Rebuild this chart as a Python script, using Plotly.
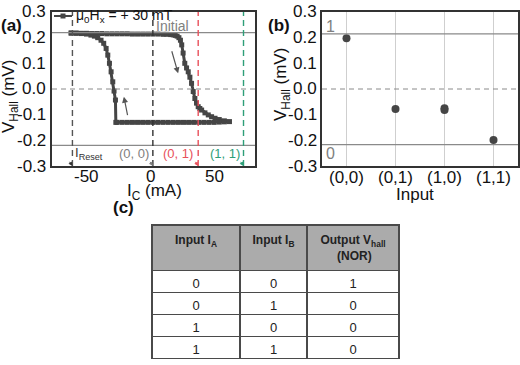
import plotly.graph_objects as go

W, H = 520, 365
FONT = "Liberation Sans, Arial, sans-serif"

# ---------------- Panel (a) data: hysteresis loop ----------------
ic_loop = [-62, -58, -54, -50, -46, -42, -38, -34, -30, -26, -22, -18, -14, -10, -6, -2,
           2, 6, 10, 13, 16, 18, 19.5, 21, 22.4, 23.6, 24.6, 25.7, 27, 28.4, 29.7, 31, 32.3,
           33.6, 34.9, 36.2, 37.5, 38.8, 40.2, 42.8, 45.4, 48, 50.7, 54, 58, 62,
           58, 54, 50, 46, 42, 38, 34, 30, 26, 22, 18, 14, 10, 6, 2, -2, -6, -10, -14,
           -18, -22, -26, -27,
           -27.3, -28.4, -29.4, -30.7, -32, -33.3, -34.6, -36.5, -38.6, -41.2, -43.8,
           -46.5, -50, -54, -58, -62]
vh_loop = [0.218, 0.218, 0.217, 0.217, 0.216, 0.216, 0.216, 0.215, 0.215, 0.215, 0.215, 0.215, 0.214, 0.214, 0.214, 0.214,
           0.214, 0.214, 0.213, 0.213, 0.212, 0.211, 0.209, 0.206, 0.200, 0.190, 0.172, 0.140, 0.100, 0.082, 0.067, 0.046, 0.022,
           -0.010, -0.037, -0.055, -0.069, -0.076, -0.082, -0.093, -0.101, -0.108, -0.114, -0.119, -0.124, -0.127,
           -0.128, -0.129, -0.130, -0.130, -0.130, -0.130, -0.130, -0.130, -0.130, -0.130, -0.130, -0.130, -0.130, -0.130, -0.130, -0.130, -0.130, -0.130, -0.130,
           -0.130, -0.130, -0.130, -0.130,
           -0.043, -0.008, 0.028, 0.067, 0.100, 0.132, 0.158, 0.178, 0.190, 0.200, 0.206,
           0.210, 0.214, 0.216, 0.217, 0.218]
loop_name = "\u03bc<sub>0</sub>H<sub>x</sub> = + 30 mT"

level_lines_a = [0.22, -0.22]
vlines_a = [-61, 2, 37.5, 73]
vline_colors = ["#555555", "#333333", "#e8505b", "#2e9e78"]
state_labels = ["I<sub>Reset</sub>", "(0, 0)", "(0, 1)", "(1, 1)"]
state_label_x = [-60.5, 0.5, 35, 71.5]
state_label_anchor = ["left", "right", "right", "right"]
state_label_colors = ["#333333", "#808080", "#e8505b", "#2e9e78"]

xticks_a = [-50, 0, 50]
xtick_text_a = ["-50", "0", "50"]
yticks = [0.3, 0.2, 0.1, 0.0, -0.1, -0.2, -0.3]
ytick_text = ["0.3", "0.2", "0.1", "0.0", "-0.1", "-0.2", "-0.3"]

# ---------------- Panel (b) data ----------------
input_idx = [0, 1, 2, 2, 3]
vhall_b = [0.198, -0.078, -0.075, -0.082, -0.199]
cat_ticks = [0, 1, 2, 3]
cat_text = ["(0,0)", "(0,1)", "(1,0)", "(1,1)"]
level_lines_b = [0.215, -0.217]
level_text_b = ["1", "0"]

# ---------------- Panel (c) table ----------------
tab_header = ["<b>Input I<sub>A</sub></b>", "<b>Input I<sub>B</sub></b>",
              "<b>Output V<sub>hall</sub></b><br><b>\u00a0\u00a0\u00a0\u00a0\u00a0(NOR)</b>"]
col_IA = ["0", "0", "1", "1"]
col_IB = ["0", "1", "0", "1"]
col_out = ["1", "0", "0", "0"]


def px_x(p):
    return p / W


def px_y(p):
    return 1 - p / H


fig = go.Figure()

fig.add_trace(go.Scatter(
    x=ic_loop, y=vh_loop, mode="lines+markers", name=loop_name,
    line=dict(color="#454545", width=3),
    marker=dict(symbol="square", size=5, color="#454545"),
    xaxis="x", yaxis="y", showlegend=False))

fig.add_trace(go.Scatter(
    x=input_idx, y=vhall_b, mode="markers",
    marker=dict(symbol="circle", size=8, color="#454545"),
    xaxis="x2", yaxis="y2", showlegend=False))

fig.add_trace(go.Table(
    domain=dict(x=[px_x(152), px_x(399)], y=[0, px_y(225)]),
    columnwidth=[88, 67, 92],
    header=dict(values=tab_header, fill_color="#ababab", height=39,
                line=dict(color="#4a4a4a", width=1.5),
                font=dict(family=FONT, size=12, color="#222222"), align="center"),
    cells=dict(values=[col_IA, col_IB, col_out], fill_color="white", height=22,
               line=dict(color="#4a4a4a", width=1.5),
               font=dict(family=FONT, size=13, color="#222222"), align="center")))

shapes = []
for v in level_lines_a:
    shapes.append(dict(type="line", xref="x domain", yref="y", x0=0, x1=1, y0=v, y1=v,
                       line=dict(color="#8a8a8a", width=1.3)))
shapes.append(dict(type="line", xref="x domain", yref="y", x0=0, x1=1, y0=0, y1=0,
                   line=dict(color="#8a8a8a", width=1, dash="5px,4px")))
for xv, c in zip(vlines_a, vline_colors):
    shapes.append(dict(type="line", xref="x", yref="y domain", x0=xv, x1=xv, y0=0, y1=1,
                       line=dict(color=c, width=1.4, dash="6px,4px")))
for v in level_lines_b:
    shapes.append(dict(type="line", xref="x2 domain", yref="y2", x0=0, x1=1, y0=v, y1=v,
                       line=dict(color="#8a8a8a", width=1.3)))
shapes.append(dict(type="line", xref="x2 domain", yref="y2", x0=0, x1=1, y0=0, y1=0,
                   line=dict(color="#8a8a8a", width=1, dash="5px,4px")))

# legend key for panel (a) (drawn as a small key in the top-left of the frame)
shapes.append(dict(type="line", xref="paper", yref="paper", x0=px_x(54), x1=px_x(72),
                   y0=px_y(16), y1=px_y(16), line=dict(color="#454545", width=2)))
shapes.append(dict(type="rect", xref="paper", yref="paper", x0=px_x(60.5), x1=px_x(65.5),
                   y0=px_y(18.5), y1=px_y(13.5), line=dict(width=0), fillcolor="#454545"))

ann = []
TICKFONT = dict(family=FONT, size=17, color="#111111")
# tick labels (placed with the axes' own data scales)
for xv, t in zip(xticks_a, xtick_text_a):
    ann.append(dict(text=t, x=xv, y=px_y(176), xref="x", yref="paper", xanchor="center",
                    yanchor="middle", showarrow=False, font=TICKFONT))
for xv, t in zip(cat_ticks, cat_text):
    ann.append(dict(text=t, x=xv, y=px_y(177), xref="x2", yref="paper", xanchor="center",
                    yanchor="middle", showarrow=False, font=TICKFONT))
for yv, t in zip(yticks, ytick_text):
    ann.append(dict(text=t, x=px_x(48), y=yv, xref="paper", yref="y", xanchor="right",
                    yanchor="middle", showarrow=False, font=TICKFONT))
    ann.append(dict(text=t, x=px_x(319), y=yv, xref="paper", yref="y2", xanchor="right",
                    yanchor="middle", showarrow=False, font=TICKFONT))

ann.append(dict(text=loop_name, x=px_x(74), y=px_y(16), xref="paper", yref="paper",
                xanchor="left", yanchor="middle", showarrow=False,
                font=dict(family=FONT, size=14, color="#111111")))
# state labels and arrows
for t, xv, anc, c, xl in zip(state_labels, state_label_x, state_label_anchor, state_label_colors, vlines_a):
    ann.append(dict(text=t, x=xv, y=-0.25, xref="x", yref="y", xanchor=anc, yanchor="middle",
                    showarrow=False, font=dict(family=FONT, size=13, color=c)))
    ann.append(dict(text="", x=xl, y=-0.3, xref="x", yref="y", ax=xl - 3, ay=-0.278,
                    axref="x", ayref="y", showarrow=True, arrowhead=2, arrowsize=0.8,
                    arrowwidth=1, arrowcolor=c))
ann.append(dict(text="Initial", x=3, y=0.245, xref="x", yref="y", xanchor="left", yanchor="middle",
                showarrow=False, font=dict(family=FONT, size=14, color="#808080")))
# sweep direction arrows
ann.append(dict(text="", x=21.8, y=0.061, ax=16.5, ay=0.153, xref="x", yref="y", axref="x", ayref="y",
                showarrow=True, arrowhead=2, arrowsize=1, arrowwidth=1.2, arrowcolor="#555555"))
ann.append(dict(text="", x=-20.7, y=-0.03, ax=-17.6, ay=-0.108, xref="x", yref="y", axref="x", ayref="y",
                showarrow=True, arrowhead=2, arrowsize=1, arrowwidth=1.2, arrowcolor="#555555"))
# panel (b) level labels
for v, t in zip(level_lines_b, level_text_b):
    ann.append(dict(text=t, x=0.01, y=v + (0.03 if v > 0 else -0.035), xref="x2 domain", yref="y2",
                    xanchor="left", yanchor="middle", showarrow=False,
                    font=dict(family=FONT, size=16, color="#808080")))
# panel labels
for t, xp, yp in [("(a)", 11, 25), ("(b)", 279, 25), ("(c)", 123, 207)]:
    ann.append(dict(text="<b>%s</b>" % t, x=px_x(xp), y=px_y(yp), xref="paper", yref="paper",
                    xanchor="center", yanchor="middle", showarrow=False,
                    font=dict(family=FONT, size=17, color="#111111")))
# axis titles
ann.append(dict(text="V<sub>Hall</sub> (mV)", x=px_x(10), y=px_y(97), xref="paper", yref="paper",
                textangle=-90, xanchor="center", yanchor="middle", showarrow=False,
                font=dict(family=FONT, size=17, color="#111111")))
ann.append(dict(text="V<sub>Hall</sub> (mV)", x=px_x(282), y=px_y(85), xref="paper", yref="paper",
                textangle=-90, xanchor="center", yanchor="middle", showarrow=False,
                font=dict(family=FONT, size=17, color="#111111")))
ann.append(dict(text="I<sub>C</sub> (mA)", x=px_x(154), y=px_y(192), xref="paper", yref="paper",
                xanchor="center", yanchor="middle", showarrow=False,
                font=dict(family=FONT, size=17, color="#111111")))
ann.append(dict(text="Input", x=px_x(415), y=px_y(194), xref="paper", yref="paper",
                xanchor="center", yanchor="middle", showarrow=False,
                font=dict(family=FONT, size=17, color="#111111")))

axis_common = dict(showline=True, linecolor="#333333", linewidth=1.5, mirror=True,
                   ticks="", showticklabels=False, showgrid=False, zeroline=False)

fig.update_layout(
    width=W, height=H, margin=dict(l=0, r=0, t=0, b=0),
    paper_bgcolor="white", plot_bgcolor="white",
    font=dict(family=FONT),
    xaxis=dict(domain=[px_x(52), px_x(255)], range=[-77, 82], tickvals=xticks_a,
               anchor="y", **axis_common),
    yaxis=dict(domain=[px_y(166), px_y(12)], range=[-0.3, 0.3], tickvals=yticks,
               anchor="x", **axis_common),
    xaxis2=dict(domain=[px_x(322), px_x(518)], range=[-0.5, 3.5], tickvals=cat_ticks,
                anchor="y2",
                **{**axis_common, "showgrid": True, "gridcolor": "#cfcfcf", "gridwidth": 1}),
    yaxis2=dict(domain=[px_y(166), px_y(12)], range=[-0.3, 0.3], tickvals=yticks,
                anchor="x2", **axis_common),
    shapes=shapes,
    annotations=ann,
    showlegend=False,
)

fig.write_html("out.html", config={"displayModeBar": False},
               post_script="document.body.style.margin='0px';")
